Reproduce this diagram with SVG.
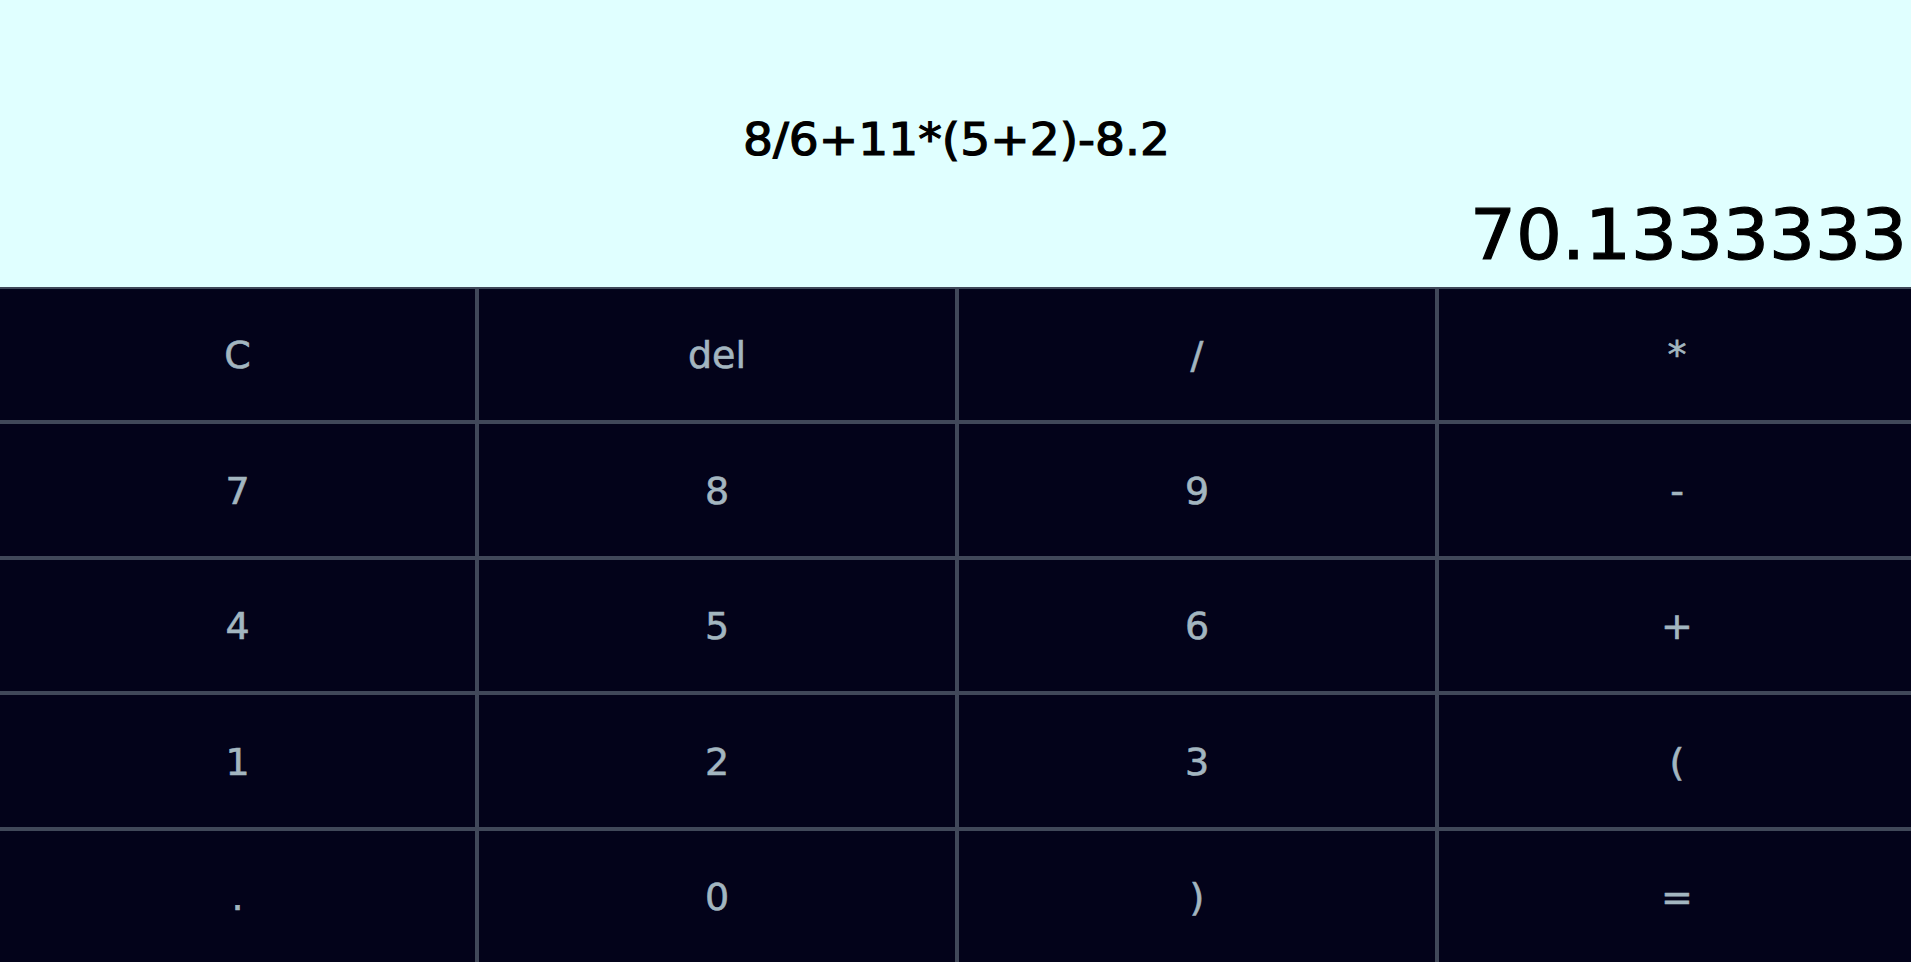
<svg xmlns="http://www.w3.org/2000/svg" width="1911" height="962" viewBox="0 0 1911 962">
<style>
.disp{font-family:"DejaVu Sans","Liberation Sans",sans-serif;fill:#000000;stroke:#000000;stroke-width:1.2px;}
.key{font-family:"DejaVu Sans","Liberation Sans",sans-serif;font-size:38px;fill:#a3b6c0;stroke:#a3b6c0;stroke-width:0.6px;text-anchor:middle;}
.ln{fill:#404859;}
</style>
<rect x="0" y="0" width="1911" height="962" fill="#03031a"/>
<g id="display">
<rect x="0" y="0" width="1911" height="287" fill="#e0ffff"/>
<text class="disp" x="743" y="155" font-size="45" textLength="427" lengthAdjust="spacingAndGlyphs">8/6+11*(5+2)-8.2</text>
<text class="disp" x="1470" y="259" font-size="69" textLength="437" lengthAdjust="spacingAndGlyphs">70.1333333</text>
</g>
<g id="grid">
<rect class="ln" x="0" y="287" width="1911" height="2"/>
<rect class="ln" x="0" y="420" width="1911" height="4"/>
<rect class="ln" x="0" y="556" width="1911" height="4"/>
<rect class="ln" x="0" y="691" width="1911" height="4"/>
<rect class="ln" x="0" y="827" width="1911" height="4"/>
<rect class="ln" x="475" y="289" width="4" height="673"/>
<rect class="ln" x="955" y="289" width="4" height="673"/>
<rect class="ln" x="1435" y="289" width="4" height="673"/>
</g>
<g id="btn-C"><text class="key" x="237.5" y="368">C</text></g>
<g id="btn-del"><text class="key" x="717" y="368">del</text></g>
<g id="btn-div"><text class="key" x="1197" y="368">/</text></g>
<g id="btn-mul"><text class="key" x="1677" y="368">*</text></g>
<g id="btn-7"><text class="key" x="237.5" y="503.5">7</text></g>
<g id="btn-8"><text class="key" x="717" y="503.5">8</text></g>
<g id="btn-9"><text class="key" x="1197" y="503.5">9</text></g>
<g id="btn-sub"><text class="key" x="1677" y="503.5">-</text></g>
<g id="btn-4"><text class="key" x="237.5" y="639">4</text></g>
<g id="btn-5"><text class="key" x="717" y="639">5</text></g>
<g id="btn-6"><text class="key" x="1197" y="639">6</text></g>
<g id="btn-add"><text class="key" x="1677" y="639">+</text></g>
<g id="btn-1"><text class="key" x="237.5" y="774.5">1</text></g>
<g id="btn-2"><text class="key" x="717" y="774.5">2</text></g>
<g id="btn-3"><text class="key" x="1197" y="774.5">3</text></g>
<g id="btn-lp"><text class="key" x="1677" y="774.5">(</text></g>
<g id="btn-dot"><text class="key" x="237.5" y="910">.</text></g>
<g id="btn-0"><text class="key" x="717" y="910">0</text></g>
<g id="btn-rp"><text class="key" x="1197" y="910">)</text></g>
<g id="btn-eq"><text class="key" x="1677" y="910">=</text></g>
</svg>
